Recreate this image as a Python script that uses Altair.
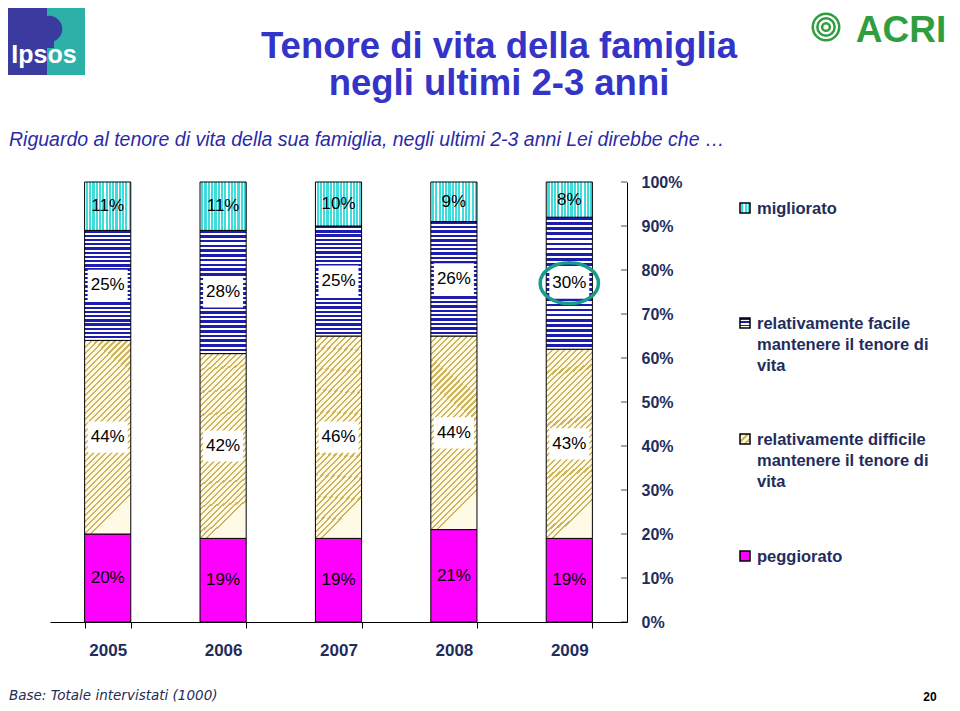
import altair as alt
import pandas as pd

# ---------------- data ----------------
years = ["2005", "2006", "2007", "2008", "2009"]
cat_keys = ["peggiorato", "difficile", "facile", "migliorato"]
peggiorato = [20, 19, 19, 21, 19]
difficile = [44, 42, 46, 44, 43]
facile = [25, 28, 25, 26, 30]
migliorato = [11, 11, 10, 9, 8]
y_ticks = [0, 10, 20, 30, 40, 50, 60, 70, 80, 90, 100]

legend_texts = {
    "migliorato": "migliorato",
    "facile": "relativamente facile\nmantenere il tenore di\nvita",
    "difficile": "relativamente difficile\nmantenere il tenore di\nvita",
    "peggiorato": "peggiorato",
}

series = {"peggiorato": peggiorato, "difficile": difficile, "facile": facile, "migliorato": migliorato}
rows = []
for order, k in enumerate(cat_keys):
    for yr, v in zip(years, series[k]):
        rows.append({"year": yr, "key": k, "order": order, "value": v})
df = pd.DataFrame(rows)

# ---------------- styles ----------------
NAVY = "#1F2D5C"
FONT = "Liberation Sans"
W, H = 577, 440


def stripes(bg, line, n, frac, x2, y2):
    stops = []
    for i in range(n):
        o0, o1, o2 = i / n, (i + frac) / n, (i + 1) / n
        stops += [
            {"offset": o0, "color": line},
            {"offset": o1, "color": line},
            {"offset": o1, "color": bg},
            {"offset": o2, "color": bg},
        ]
    return {"gradient": "linear", "x1": 0, "y1": 0, "x2": x2, "y2": y2, "stops": stops}


fills = {
    "peggiorato": "#FF00FF",
    "difficile": stripes("#FFFAE6", "#CDB460", 34, 0.35, 0.24, 1),
    "facile": stripes("#FFFFFF", "#1C1CB0", 26, 0.55, 0, 1),
    "migliorato": stripes("#3FDCDC", "#FFFFFF", 14, 0.35, 1, 0),
}
swatch_fills = {
    "peggiorato": "#FF00FF",
    "difficile": stripes("#FFFAE6", "#CDB460", 3, 0.4, 1, 1),
    "facile": stripes("#FFFFFF", "#1C1CB0", 3, 0.5, 0, 1),
    "migliorato": stripes("#3FDCDC", "#FFFFFF", 3, 0.4, 1, 0),
}

base = alt.Chart(df).transform_stack(
    stack="value", groupby=["year"], as_=["y0", "y1"], sort=[alt.SortField("order")]
).transform_calculate(mid="(datum.y0 + datum.y1) / 2", label="datum.value + '%'")

X = alt.X(
    "year:N",
    sort=years,
    scale=alt.Scale(paddingInner=0.6, paddingOuter=0.3),
    axis=alt.Axis(
        title=None, labelAngle=0, tickBand="extent", tickSize=6, tickColor="black",
        domainColor="black", labelFontSize=17, labelFont=FONT, labelFontWeight="bold",
        labelColor=NAVY, labelPadding=14,
    ),
)
Y_scale = alt.Scale(domain=[0, 100])
Y_axis = alt.Axis(
    orient="right", values=y_ticks, labelExpr="datum.value + '%'", title=None,
    grid=False, ticks=False, domainColor="black", labelFontSize=16, labelFont=FONT,
    labelFontWeight="bold", labelColor=NAVY, labelPadding=14,
)
Y = alt.Y("y0:Q", scale=Y_scale, axis=Y_axis)
Ymid = alt.Y("mid:Q", scale=Y_scale, axis=Y_axis)

layers = []
for k in cat_keys:
    layers.append(
        base.transform_filter(alt.datum.key == k)
        .mark_bar(fill=fills[k], stroke="black", strokeWidth=1)
        .encode(x=X, y=Y, y2="y1:Q")
    )

box_path = "M-1,-0.78L1,-0.78L1,0.78L-1,0.78Z"
layers.append(
    base.transform_filter("datum.key == 'facile' || datum.key == 'difficile'")
    .mark_point(shape=box_path, size=1600, filled=True, fill="white", opacity=1, strokeWidth=0)
    .encode(x=X, y=Ymid)
)
layers.append(
    base.mark_text(fontSize=17, font=FONT, color="black").encode(x=X, y=Ymid, text="label:N")
)
ellipse_path = "M-1,0A1,0.7 0 1,0 1,0A1,0.7 0 1,0 -1,0Z"
layers.append(
    base.transform_filter("datum.year == '2009' && datum.key == 'facile'")
    .mark_point(shape=ellipse_path, size=3400, filled=False, stroke="#1A9C8C", strokeWidth=3.5, opacity=1)
    .encode(x=X, y=Ymid)
)

# inward ticks on the right axis
layers.append(
    alt.Chart(pd.DataFrame({"v": y_ticks}))
    .mark_tick(orient="horizontal", size=6, thickness=1, color="black")
    .encode(x=alt.value(W - 3), y=alt.Y("v:Q", scale=Y_scale, axis=Y_axis))
)


def note(text, x, y, **kw):
    return alt.Chart(pd.DataFrame({"t": [text]})).mark_text(**kw).encode(
        x=alt.value(x), y=alt.value(y), text="t:N"
    )


# title & subtitle
layers.append(note("Tenore di vita della famiglia", 449, -135, fontSize=36.5, fontWeight="bold", font=FONT, color="#3434C8"))
layers.append(note("negli ultimi 2-3 anni", 449, -98, fontSize=36.5, fontWeight="bold", font=FONT, color="#3434C8"))
layers.append(note("Riguardo al tenore di vita della sua famiglia, negli ultimi 2-3 anni Lei direbbe che \u2026",
                   -41, -42, fontSize=19.5, fontStyle="italic", font=FONT, color="#2A2AA8", align="left"))
# footnote & page number
layers.append(note("Base:  Totale intervistati (1000)", -41, 514, fontSize=13.5, fontStyle="italic",
                   font="DejaVu Sans", color=NAVY, align="left"))
layers.append(note("20", 880, 515, fontSize=12, fontWeight="bold", font=FONT, color="black"))

# legend
leg_pos = {"migliorato": 27, "facile": 142, "difficile": 258, "peggiorato": 375}
for k in cat_keys:
    yy = leg_pos[k]
    layers.append(
        alt.Chart(pd.DataFrame({"k": [k]}))
        .mark_point(shape="square", size=100, filled=True, fill=swatch_fills[k], stroke="black", strokeWidth=1.5, opacity=1)
        .encode(x=alt.value(695), y=alt.value(yy - 1))
    )
    layers.append(note(legend_texts[k], 707, yy, fontSize=16.5, fontWeight="bold", font=FONT, color=NAVY,
                       align="left", baseline="middle", lineBreak="\n", lineHeight=21))

# Ipsos logo
logo = pd.DataFrame({"a": [0]})
layers.append(alt.Chart(logo).mark_rect(color="#3B3A9E").encode(
    x=alt.value(-42), x2=alt.value(-3), y=alt.value(-174), y2=alt.value(-107)))
layers.append(alt.Chart(logo).mark_rect(color="#2CB0A8").encode(
    x=alt.value(-3), x2=alt.value(35), y=alt.value(-174), y2=alt.value(-107)))
layers.append(alt.Chart(logo).mark_point(shape="circle", size=700, filled=True, fill="#3B3A9E", opacity=1).encode(
    x=alt.value(-1), y=alt.value(-153)))
layers.append(alt.Chart(logo).mark_rect(color="#3B3A9E").encode(
    x=alt.value(-8), x2=alt.value(4), y=alt.value(-145), y2=alt.value(-134)))
layers.append(note("Ipsos", -6, -127, fontSize=25, fontWeight="bold", font=FONT, color="white"))

# ACRI logo
GREEN = "#2F9E3F"
for s, sw in [(700, 2.5), (300, 2.5), (60, 2.5)]:
    layers.append(alt.Chart(logo).mark_point(shape="circle", size=s, filled=False, stroke=GREEN, strokeWidth=sw, opacity=1).encode(
        x=alt.value(776), y=alt.value(-155)))
layers.append(note("ACRI", 851, -151, fontSize=37, fontWeight="bold", font=FONT, color=GREEN))

chart = alt.layer(*layers).properties(
    width=W,
    height=H,
    padding={"left": 42, "top": 174, "right": 325, "bottom": 81},
    autosize=alt.AutoSizeParams(type="none"),
).configure_view(strokeWidth=0)

chart.save("out.html", embed_options={"renderer": "svg", "actions": False})
